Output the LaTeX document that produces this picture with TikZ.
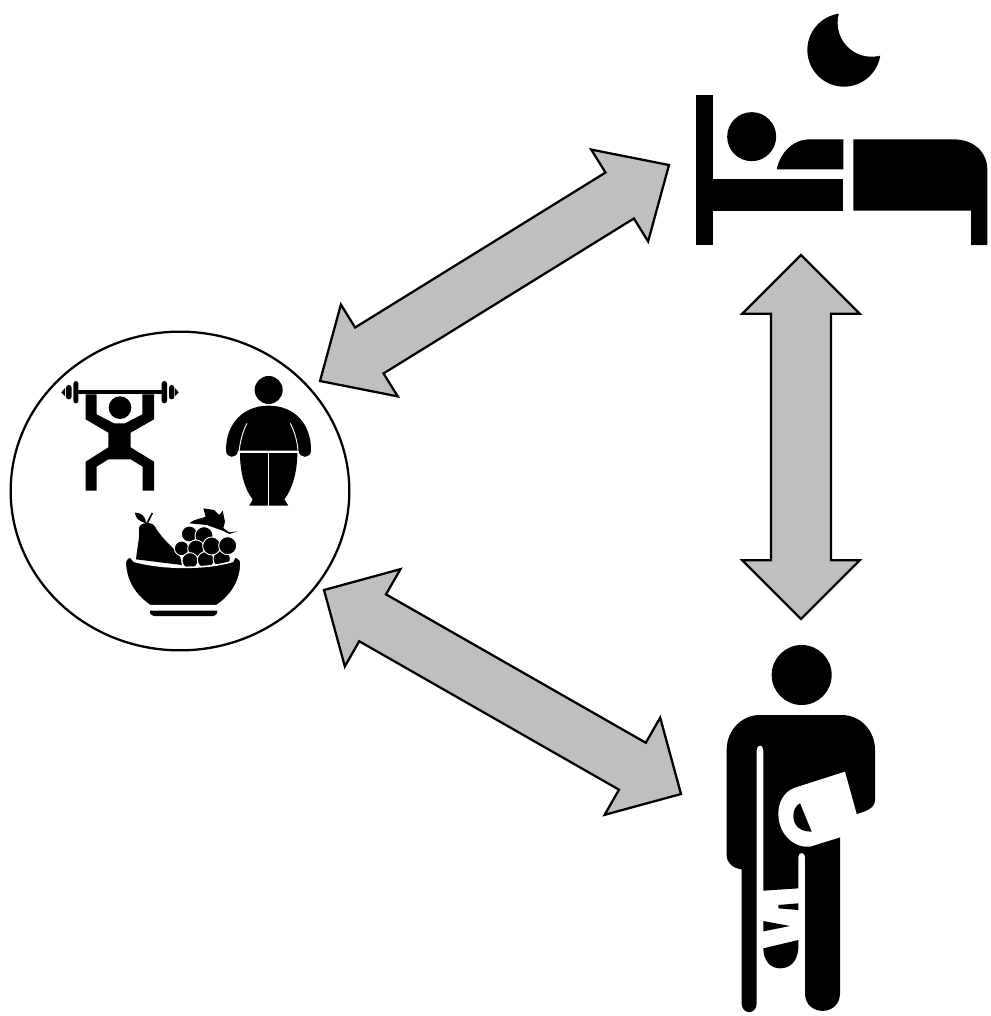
\documentclass[tikz,border=0pt]{standalone}
\usepackage{tikz}
\usetikzlibrary{calc, shapes.geometric}
\definecolor{arrowgray}{RGB}{191,191,191}

% fat double arrow: tip, tip, head depth, head half width, shaft half width
\newcommand{\fatarrow}[5]{%
  \draw[fat] (#1)
    -- ($(#1)!#3!(#2)!#4!90:(#2)$)
    -- ($(#1)!#3!(#2)!#5!90:(#2)$)
    -- ($(#2)!#3!(#1)!#5!-90:(#1)$)
    -- ($(#2)!#3!(#1)!#4!-90:(#1)$)
    -- (#2)
    -- ($(#2)!#3!(#1)!#4!90:(#1)$)
    -- ($(#2)!#3!(#1)!#5!90:(#1)$)
    -- ($(#1)!#3!(#2)!#5!-90:(#2)$)
    -- ($(#1)!#3!(#2)!#4!-90:(#2)$)
    -- cycle;}

\begin{document}
\begin{tikzpicture}[
  x=0.75pt, y=-0.75pt,
  fat/.style={draw=black, fill=arrowgray, line width=1.7pt},
  ring/.style={draw=black, fill=white, ellipse, line width=1.7pt, minimum width=254pt, minimum height=239pt, inner sep=0pt},
  icon/.style={fill=black, draw=none},
  gap/.style={draw=white, line width=0.7pt},
  grape/.style={fill=black, draw=white, line width=0.7pt},
  zoomed/.style={x=0.25pt, y=-0.25pt},
]
  \useasboundingbox (0,0) rectangle (991,1016);

  \node[ring] (life) at (180,491) {};

  % arrow ends
  \coordinate (lifeup) at (320,381);
  \coordinate (bedleft) at (669,165);
  \coordinate (bedlow) at (801,255);
  \coordinate (manup) at (801,619);
  \coordinate (lifelow) at (324,590);
  \coordinate (manleft) at (681,794);

  \fatarrow{lifeup}{bedleft}{43.5pt}{40.5pt}{20.25pt}
  \fatarrow{bedlow}{manup}{44pt}{44pt}{22.5pt}
  \fatarrow{lifelow}{manleft}{42pt}{42pt}{20.25pt}

  % moon and bed
  \begin{scope}[shift={(680,0)}, zoomed]
    \fill[icon] (492,150) circle[radius=110];
    \fill[white] (575,68) circle[radius=102];
    \fill[icon] (48,285) rectangle (99,735);
    \fill[icon] (215,410) circle[radius=73.5];
    \fill[icon] (290,508) .. controls (302,455) and (340,418) .. (390,418) -- (490,418) -- (490,508) -- cycle;
    \fill[icon] (99,537) rectangle (490,632);
    \fill[icon] (520,418) -- (820,418) .. controls (880,418) and (922,455) .. (922,510) -- (922,735) -- (873,735) -- (873,632) -- (520,632) -- cycle;
  \end{scope}

  % weight lifter, overweight figure and fruit bowl
  \begin{scope}[shift={(40,360)}, zoomed]
    \fill[icon] (115,90) rectangle (365,103);
    \fill[icon, rounded corners=2pt] (100,63) rectangle (115,130);
    \fill[icon, rounded corners=2pt] (78,75) rectangle (95,118);
    \fill[icon] (75,84) -- (64,97) -- (75,108) -- cycle;
    \fill[icon, rounded corners=2pt] (365,63) rectangle (381,130);
    \fill[icon, rounded corners=2pt] (387,75) rectangle (403,118);
    \fill[icon] (405,84) -- (416,97) -- (405,108) -- cycle;
    \fill[icon] (137,103) -- (137,178) -- (205,218) -- (205,262) -- (137,305) -- (137,392) -- (170,392) -- (170,320) -- (205,298) -- (272,298) -- (308,320) -- (308,392) -- (342,392) -- (342,305) -- (272,262) -- (272,218) -- (342,178) -- (342,103) -- (307,103) -- (307,163) -- (255,190) -- (222,190) -- (170,163) -- (170,103) -- cycle;
    \fill[icon] (240,143) circle[radius=34];

    \fill[icon] (686,90) circle[radius=42];
    \fill[icon] (558,270) .. controls (558,190) and (610,137) .. (686,137) .. controls (762,137) and (813,190) .. (813,270) .. controls (813,297) and (778,297) .. (776,272) -- (594,272) .. controls (592,297) and (558,297) .. (558,270) -- cycle;
    \draw[gap] (621,190) .. controls (608,215) and (600,245) .. (598,272);
    \draw[gap] (751,190) .. controls (764,215) and (772,245) .. (774,272);
    \fill[icon] (600,279) -- (772,279) .. controls (772,340) and (755,390) .. (733,418) -- (745,437) -- (628,437) -- (638,418) .. controls (615,390) and (600,340) .. (600,279) -- cycle;
    \draw[gap] (685,279) -- (685,437);

    \fill[icon] (288,598) .. controls (292,560) and (300,530) .. (297,505) .. controls (297,488) and (335,482) .. (345,500) .. controls (362,530) and (385,550) .. (405,570) .. controls (420,585) and (425,600) .. (425,615) -- cycle;
    \fill[icon] (318,490) .. controls (300,485) and (285,475) .. (285,458) .. controls (305,458) and (318,470) .. (318,490) -- cycle;
    \fill[icon] (318,490) -- (335,458) -- (339,460) -- (324,490) -- cycle;
    \fill[icon] (448,490) .. controls (465,475) and (490,475) .. (497,470) -- (490,445) -- (522,450) -- (538,465) -- (548,452) -- (555,485) -- (548,512) -- (500,495) -- cycle;
    \fill[icon] (548,503) -- (568,517) -- (592,514) -- (568,522) -- (545,510) -- cycle;
    \foreach \gx/\gy/\gr in {425/565/22, 448/522/24, 492/527/27, 468/565/25, 450/602/24, 497/600/25, 545/597/26, 515/558/27, 563/557/27}
      \filldraw[grape] (\gx,\gy) circle[radius=\gr];
    \filldraw[icon, draw=white, line width=1.2pt] (270,590) .. controls (258,595) and (255,602) .. (256,615) .. controls (260,670) and (290,710) .. (330,737) -- (530,737) .. controls (570,710) and (600,670) .. (603,615) .. controls (604,602) and (600,595) .. (585,590) -- (578,604) .. controls (500,628) and (370,628) .. (283,604) -- cycle;
    \fill[icon] (330,752) -- (532,752) .. controls (532,762) and (528,768) .. (520,768) -- (342,768) .. controls (334,768) and (330,762) .. (330,752) -- cycle;
  \end{scope}

  % figure on a crutch
  \begin{scope}[shift={(710,640)}, zoomed]
    \fill[icon] (275,105) circle[radius=90];
    \fill[icon] (50,330) .. controls (50,270) and (95,225) .. (150,225) -- (395,225) .. controls (450,225) and (495,270) .. (495,330) -- (495,480) .. controls (495,505) and (465,515) .. (440,522) -- (390,592) -- (390,1060) .. controls (390,1130) and (285,1130) .. (285,1060) -- (285,650) .. controls (285,635) and (265,635) .. (265,650) -- (265,745) -- (160,752) -- (160,330) .. controls (160,312) and (140,312) .. (140,330) -- (140,1090) .. controls (140,1125) and (95,1125) .. (95,1090) -- (95,688) .. controls (70,685) and (50,670) .. (50,645) -- cycle;
    \fill[white] (405,395) -- (255,443) .. controls (220,455) and (205,490) .. (205,520) .. controls (205,590) and (260,625) .. (300,620) -- (390,592) -- (470,570) -- (440,522) -- cycle;
    \fill[icon] (270,490) .. controls (250,500) and (245,530) .. (255,550) .. controls (265,570) and (285,575) .. (305,575) -- cycle;
    \fill[icon] (205,795) -- (265,790) -- (265,810) -- (205,805) -- cycle;
    \fill[icon] (160,843) -- (240,858) -- (160,874) -- cycle;
    \fill[icon] (160,925) -- (265,900) -- (265,925) .. controls (262,965) and (240,985) .. (210,985) .. controls (180,985) and (160,960) .. (160,925) -- cycle;
  \end{scope}
\end{tikzpicture}
\end{document}
